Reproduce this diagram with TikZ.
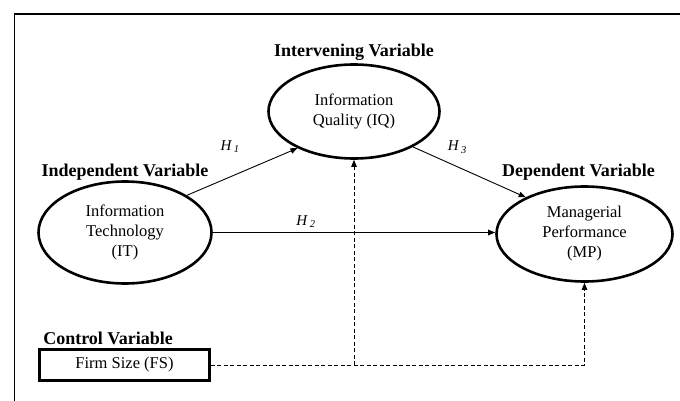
\documentclass[tikz,border=0pt]{standalone}
\usepackage{fontspec}
\setmainfont{Liberation Serif}
\usetikzlibrary{positioning, shapes.geometric, arrows.meta}
\tikzset{ var/.style={draw, ellipse, line width=2.6pt,
            minimum width=172pt, minimum height=95pt, inner sep=0pt,
            align=center, font=\fontsize{16.5}{20}\selectfont},
        vartitle/.style={inner sep=0pt, font=\fontsize{18}{20}\selectfont\bfseries},
        hyp/.style={inner sep=0pt, font=\fontsize{15}{17}\selectfont\itshape},
        link/.style={line width=0.9pt, -{Triangle[length=7pt,width=5.5pt]}},
        ctrl/.style={link, dash pattern=on 4pt off 2.5pt}}

\begin{document}
\begin{tikzpicture}[x=1pt, y=-1pt]
\useasboundingbox (0,0) rectangle (680,401);

% frame
\draw[line width=1.7pt] (14,14) -- (681,14);
\draw[line width=1pt] (14.5,14) -- (14.5,402);

\node[var, minimum width=171pt, minimum height=94pt] (iq) at (354,111.5)
  {Information\\Quality (IQ)};
\node[var, minimum width=173pt, minimum height=102pt] (it) at (125,232.5)
  {Information\\Technology\\(IT)};
\node[var, minimum width=176pt] (mp) at (584.5,234)
  {Managerial\\Performance\\(MP)};
\node[draw, line width=2.8pt, minimum width=170pt, minimum height=31pt,
  font=\fontsize{16.5}{20}\selectfont] (fs) at (124.5,365) {Firm Size (FS)};

\node[vartitle, above=2.5pt of iq] (iqtitle) {Intervening Variable};
\node[vartitle, above=0pt of it] (ittitle) {Independent Variable};
\node[vartitle, above=4.5pt of mp, xshift=-6pt] (mptitle) {Dependent Variable};
\node[vartitle, above=3.5pt of fs.north west, anchor=south west, xshift=5pt]
  (fstitle) {Control Variable};

\foreach \a/\b/\h in {it.31/iq.213/1, iq.-31/mp.148/3} %H1, H3
  \draw[link] (\a) -- (\b)
    node[midway, hyp, xshift=-12pt, yshift=25pt] {H\,\textsubscript{\h}};
\draw[link] (it.east) -- (it.east -| mp.west)
  node[pos=0.33, hyp, yshift=11pt] {H\,\textsubscript{2}};

% control variable
\draw[ctrl] (fs.east) -| (mp.south);
\draw[ctrl] (fs.east -| iq.south) -- (iq.south);

\end{tikzpicture}
\end{document}
